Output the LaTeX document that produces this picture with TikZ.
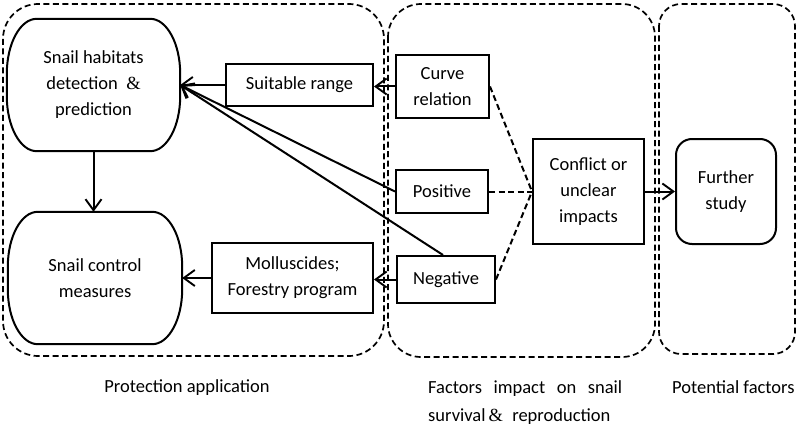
\documentclass[tikz,border=0pt]{standalone}
\usepackage{fontspec}
\setmainfont{Carlito}
\newfontfamily\ampfont{Liberation Serif}
\usetikzlibrary{arrows.meta,calc}
\newcommand\amp{{\ampfont\&}}
\newcommand\barreldraw[3]{%
 \draw[line width=2pt] ($(#1.north west)+(#2,0)$) -- ($(#1.north east)+(-#2,0)$)
 .. controls ($(#1.north east)+(-0.448*#2,0)$) and ($(#1.north east)+(0,0.448*#3)$) .. ($(#1.north east)+(0,#3)$)
 -- ($(#1.south east)+(0,-#3)$)
 .. controls ($(#1.south east)+(0,-0.448*#3)$) and ($(#1.south east)+(-0.448*#2,0)$) .. ($(#1.south east)+(-#2,0)$)
 -- ($(#1.south west)+(#2,0)$)
 .. controls ($(#1.south west)+(0.448*#2,0)$) and ($(#1.south west)+(0,-0.448*#3)$) .. ($(#1.south west)+(0,-#3)$)
 -- ($(#1.north west)+(0,#3)$)
 .. controls ($(#1.north west)+(0,0.448*#3)$) and ($(#1.north west)+(0.448*#2,0)$) .. cycle;
}
\tikzset{
 txt/.style={font=\fontsize{18.5}{26}\selectfont},
 box/.style={txt, draw, line width=2pt, inner sep=0pt, align=center},
 barrelnode/.style={txt, inner sep=0pt, align=center},
 group/.style={draw, dash pattern=on 6pt off 3.5pt, line width=1.7pt},
 arr/.style={line width=2pt, -{Straight Barb[length=11pt,width=16pt,line width=1.9pt]}},
 dline/.style={line width=2pt, dash pattern=on 6pt off 3.5pt},
}
\begin{document}
\begin{tikzpicture}[x=1pt,y=-1pt]
\useasboundingbox (0,0) rectangle (797,425);
% containers
\draw[group, rounded corners=35pt] (3,4) rectangle (384,356);
\draw[group, rounded corners=33pt] (388,4) rectangle (655,357);
\draw[group, rounded corners=22pt] (659,4) rectangle (795,354);
% nodes
\node[barrelnode, minimum width=173pt, minimum height=132pt] (hab) at (93.5,85)
 {Snail habitats\\detection~~\amp\\prediction};
\barreldraw{hab}{30}{55}
\node[barrelnode, minimum width=174pt, minimum height=132pt] (ctrl) at (95,278)
 {Snail control\\measures};
\barreldraw{ctrl}{30}{55}
\node[box, minimum width=147pt, minimum height=42pt] (suit) at (299.5,85) {Suitable range};
\node[box, minimum width=93pt, minimum height=63pt] (curve) at (442.5,86.5) {Curve\\relation};
\node[box, minimum width=92pt, minimum height=43pt] (pos) at (442,191.5) {Positive};
\node[box, minimum width=98pt, minimum height=47pt] (neg) at (446,279.5) {Negative};
\node[box, minimum width=161pt, minimum height=70pt] (moll) at (292.5,278) {Molluscides;\\Forestry program};
\node[box, minimum width=111pt, minimum height=105pt] (conf) at (588.5,191.5) {Conflict or\\unclear\\impacts};
\node[box, rounded corners=16pt, minimum width=100pt, minimum height=105pt] (fur) at (726,191.5) {Further\\study};
% connectors
\draw[arr] (hab.south) -- (hab.south |- ctrl.north);
\draw[arr] (suit.west) -- (hab.east);
\draw[arr] (curve.west) -- (curve.west -| suit.east);
\draw[arr] (pos.west) -- (hab.east);
\draw[arr] ([xshift=-3pt]neg.north) -- (hab.east);
\draw[arr] (neg.west) -- (neg.west -| moll.east);
\draw[arr] (moll.west) -- (moll.west -| ctrl.east);
\draw[arr] (conf.east) -- (fur.west);
\draw[dline] (curve.east) -- (conf.west);
\draw[dline] (pos.east) -- (conf.west);
\draw[dline] (neg.east) -- (conf.west);
% labels
\node[txt, anchor=base] (l1) at (187,392) {Protection application};
\node[txt, anchor=base west, inner sep=0pt] (l2) at (428,393) {\makebox[194pt][s]{Factors impact on snail}};
\node[txt, anchor=base west, inner sep=0pt] (l3) at (428,421) {survival\,\amp\enspace reproduction};
\node[txt, anchor=base west, inner sep=0pt] (l4) at (672,393) {Potential factors};
\end{tikzpicture}
\end{document}
